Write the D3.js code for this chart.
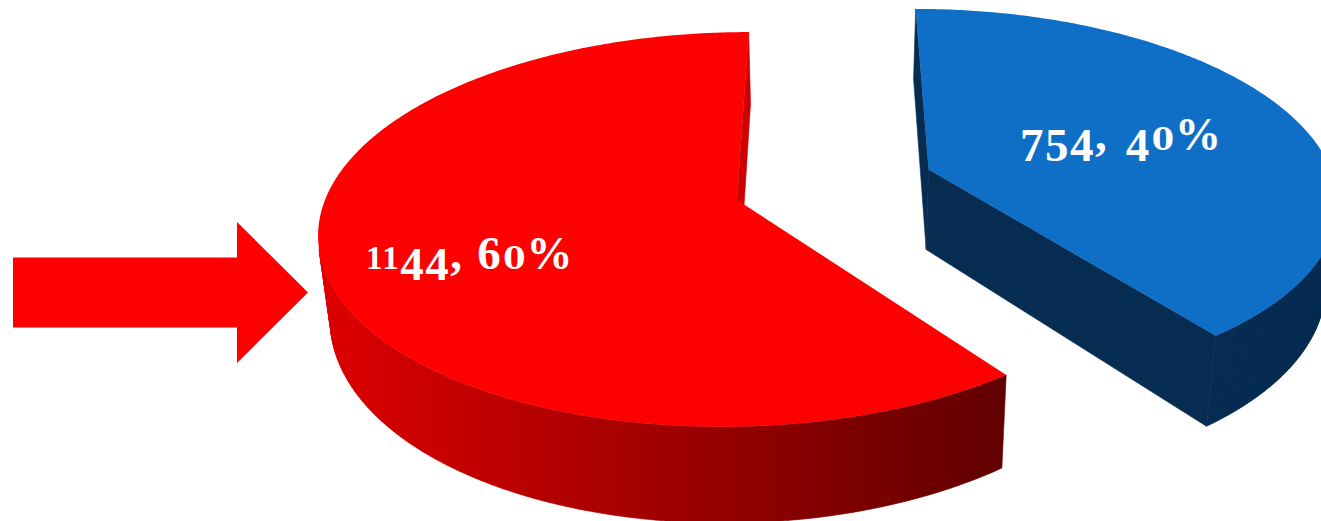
<!DOCTYPE html>
<html>
<head>
<meta charset="utf-8">
<script src="https://cdn.jsdelivr.net/npm/d3@7/dist/d3.min.js"></script>
<style>
  html, body { margin: 0; background: #fff; overflow: hidden; }
  svg { display: block; }
  text { font-family: "Liberation Serif", serif; font-weight: 700; fill: #fff; white-space: pre; }
</style>
</head>
<body>
<svg id="chart" width="1321" height="521"></svg>
<script>
// Two-slice exploded 3D pie with a pointer arrow on the larger slice.
const categories = ["Other", "Highlighted"];
const values = [754, 1144];
const separators = [",  ", ", "];
const explodeX = [0.471, 0];
const explodeY = [-0.162, 0];
const topColors = ["#0f6fc6", "#ff0000"];

const svg = d3.select("#chart");

// Perspective camera for a tilted disc of unit radius, z = 0 top face, z = 1 bottom face.
const cam = { cx: 827, vy: -1095, depth: 1295, p: 0.149, radius: 412, thick: 82, taper: 0.024, x0: -90 };
function project(x, y, z) {
  const s = 1 / (1 - cam.p * y);
  const zf = 1 - cam.taper * z;
  return [
    cam.cx + (cam.x0 + x * cam.radius) * s * zf,
    cam.vy + cam.depth * s + cam.thick * s * z
  ];
}

const arcs = d3.pie().sort(null).startAngle(0).endAngle(2 * Math.PI)(values);
const total = d3.sum(values);
const line = d3.line();

// Wall colour for the red slice darkens from left to right.
const grad = svg.append("defs").append("linearGradient")
  .attr("id", "redWall").attr("gradientUnits", "userSpaceOnUse")
  .attr("x1", 330).attr("x2", 1000).attr("y1", 0).attr("y2", 0);
grad.append("stop").attr("offset", 0).attr("stop-color", "#dc0000");
grad.append("stop").attr("offset", 1).attr("stop-color", "#620000");

function rim(d, i) {
  const ox = explodeX[i], oy = explodeY[i];
  const n = Math.ceil((d.endAngle - d.startAngle) / 0.01);
  return {
    pt: (a, z) => project(ox + Math.sin(a), oy - Math.cos(a), z),
    apex: z => project(ox, oy, z),
    angles: d3.range(n + 1).map(k => d.startAngle + (d.endAngle - d.startAngle) * k / n)
  };
}

// Back to front: the blue slice, then the red one.
const wallFill = ["#062c52", "url(#redWall)"];
const radialFill = ["#062c52", "#cc0000"];
arcs.forEach((d, i) => {
  const r = rim(d, i);
  const g = svg.append("g").attr("class", "slice").attr("data-name", categories[i]);

  // Radial side walls, whichever can face the viewer.
  const edges = i === 0 ? [d.startAngle, d.endAngle] : [d.endAngle];
  edges.forEach(a => {
    g.append("path")
      .attr("d", line([r.apex(0), r.pt(a, 0), r.pt(a, 1), r.apex(1)]) + "Z")
      .attr("fill", radialFill[i])
      .attr("stroke", radialFill[i]).attr("stroke-width", 0.6);
  });

  // Outer curved wall: only the strips turned towards the camera.
  const strips = d3.pairs(r.angles)
    .map(([a, b]) => [r.pt(a, 0), r.pt(b, 0), r.pt(b, 1), r.pt(a, 1)])
    .filter(q => d3.polygonArea(q) > 0);
  g.append("path")
    .attr("d", strips.map(q => line(q) + "Z").join(""))
    .attr("fill", wallFill[i])
    .attr("stroke", wallFill[i]).attr("stroke-width", 0.6);

  // Top face.
  const face = [r.apex(0)].concat(r.angles.map(a => r.pt(a, 0)));
  g.append("path").attr("d", line(face) + "Z").attr("fill", topColors[i]);
});

// Data labels: digits are set in old-style proportions.
const labelAt = [[1020, 150], [366, 269]];
const gapAfterComma = [-4, 3];
const drop = 11;
arcs.forEach((d, i) => {
  const pct = Math.round(d.value / total * 100);
  const str = `${d.value}${separators[i]}${pct}%`;
  const t = svg.append("text").attr("x", labelAt[i][0]).attr("y", labelAt[i][1]);
  let cur = 0;
  let afterComma = false;
  for (const ch of str) {
    let size = 47, want = 0, spacing = 1.5, dx = 0, family = null;
    if (ch === "1") { size = 33; spacing = 1.5; }
    if (ch === "0") { size = 32; dx = 1; spacing = 0; family = "'DejaVu Serif', serif"; }
    if (ch === "3" || ch === "4" || ch === "5" || ch === "7" || ch === "9") want = drop;
    if (ch === " ") spacing = -1;
    if (ch === "%") { size = 46; dx = 1; spacing = 0; }
    if (afterComma && ch !== " ") { dx += gapAfterComma[i]; afterComma = false; }
    if (ch === ",") afterComma = true;
    const span = t.append("tspan")
      .attr("dy", want - cur)
      .attr("dx", dx)
      .style("font-size", size + "px")
      .style("letter-spacing", spacing + "px")
      .text(ch);
    if (family) span.style("font-family", family);
    cur = want;
  }
});

// Block arrow pointing at the red slice.
const arrow = { x0: 13, neck: 237, tip: 308, mid: 292.5, half: 35, head: 70.5 };
svg.append("path")
  .attr("fill", "#ff0000")
  .attr("d", line([
    [arrow.x0, arrow.mid - arrow.half], [arrow.neck, arrow.mid - arrow.half],
    [arrow.neck, arrow.mid - arrow.head], [arrow.tip, arrow.mid],
    [arrow.neck, arrow.mid + arrow.head], [arrow.neck, arrow.mid + arrow.half],
    [arrow.x0, arrow.mid + arrow.half]
  ]) + "Z");
</script>
</body>
</html>
